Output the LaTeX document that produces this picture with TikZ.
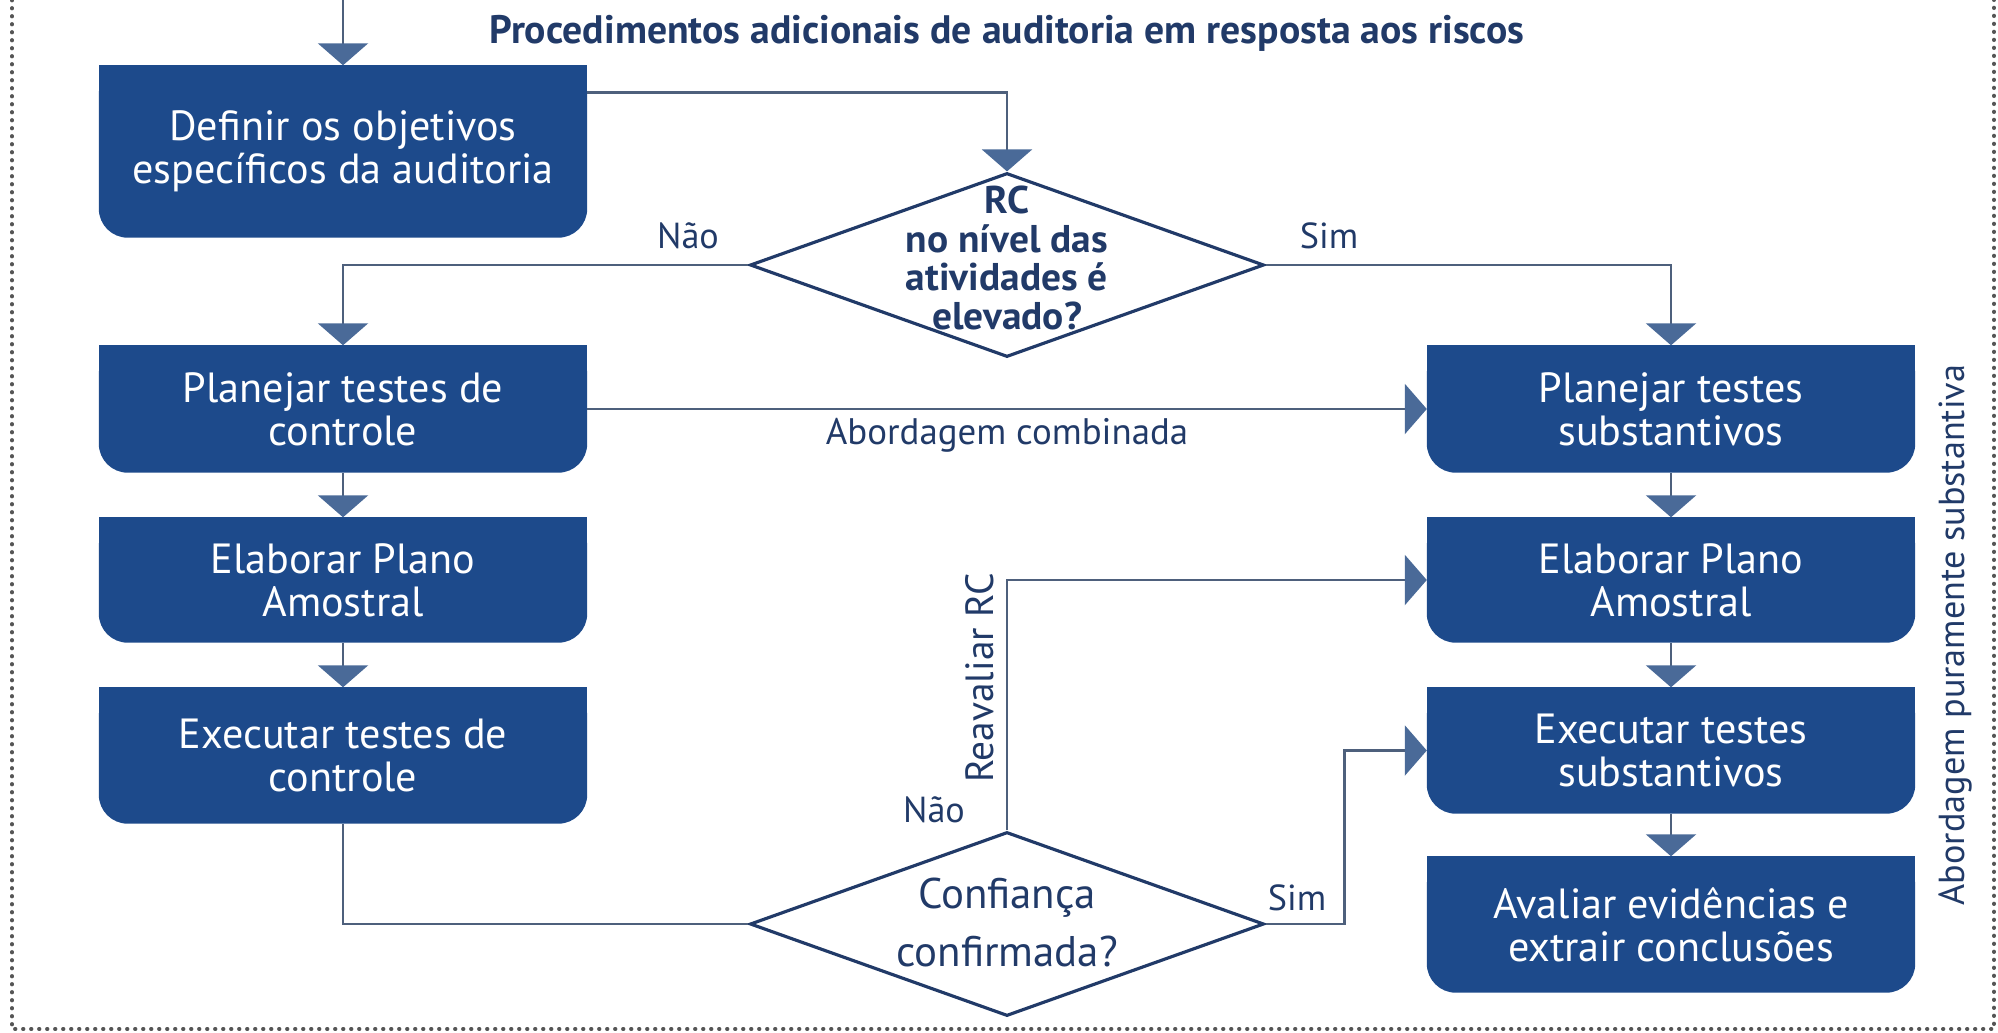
\documentclass[tikz,border=0pt]{standalone}
\usepackage{fontspec}
\setmainfont{PT Sans}
\newfontfamily\condbold[FakeStretch=1.02]{PT Sans Bold}
\usetikzlibrary{shapes.geometric,arrows.meta,backgrounds}
\definecolor{boxblue}{RGB}{29,74,139}
\definecolor{navy}{RGB}{33,58,104}
\definecolor{wirecol}{RGB}{78,96,124}
\definecolor{tipblue}{RGB}{74,106,152}
\definecolor{dotgray}{RGB}{85,85,85}

\begin{document}
\begin{tikzpicture}[x=0.1mm,y=-0.1mm,
  stepbox/.style={minimum width=48.7mm, inner sep=0, text=white, align=center,
                  font=\fontsize{12}{12.2}\selectfont},
  decision/.style={diamond, draw=navy, line width=0.9pt, minimum width=51.4mm,
                   minimum height=18.4mm, inner sep=0},
  wire/.style={draw=wirecol, line width=0.75pt},
  flow/.style={wire, -{Triangle[width=5mm,length=2.2mm,color=tipblue]}},
  lbl/.style={text=navy, font=\fontsize{10.3}{12}\selectfont, inner sep=0}
]
\useasboundingbox (0,0) rectangle (1998,1032);

% page frame (dotted)
\draw[dotgray, line width=0.38mm, dash pattern=on 0.05mm off 0.75mm, line cap=round]
  (12,0) -- (12,1029) -- (1994,1029) -- (1994,0);

% title
\node[text=navy, font=\bfseries\fontsize{11.3}{13}\selectfont] (title) at (1007,33)
  {Procedimentos adicionais de auditoria em resposta aos riscos};

% process steps
\node[stepbox, minimum height=17.1mm] (L1) at (343,151.5) {Definir os objetivos\\específicos da auditoria};
\node[stepbox, minimum height=12.6mm] (L2) at (343,409) {Planejar testes de\\controle};
\node[stepbox, minimum height=12.4mm] (L3) at (343,580) {Elaborar Plano\\Amostral};
\node[stepbox, minimum height=13.5mm] (L4) at (343,755.5) {Executar testes de\\controle};
\node[stepbox, minimum height=12.6mm] (R1) at (1671,409) {Planejar testes\\substantivos};
\node[stepbox, minimum height=12.4mm] (R2) at (1671,580) {Elaborar Plano\\Amostral};
\node[stepbox, minimum height=12.5mm] (R3) at (1671,750.5) {Executar testes\\substantivos};
\node[stepbox, minimum height=13.5mm] (R4) at (1671,924.5) {Avaliar evidências e\\extrair conclusões};

% box bodies: square top, rounded bottom
\begin{scope}[on background layer]
  \foreach \n in {L1,L2,L3,L4,R1,R2,R3,R4}{
    \fill[boxblue, rounded corners=2.9mm] (\n.south west) rectangle (\n.north east);
    \fill[boxblue] (\n.west) rectangle (\n.north east);
  }
\end{scope}

% decisions
\node[decision] (D1) at (1007,265) {};
\node[font=\condbold\fontsize{11}{11}\selectfont, text=navy, align=center, inner sep=0]
  (D1t) at (1007,258) {RC\\no nível das\\atividades é\\elevado?};
\node[decision] (D2) at (1007,924) {};
\node[font=\fontsize{12.2}{16.5}\selectfont, text=navy, align=center, inner sep=0]
  (D2t) at (1007,922) {Confiança\\confirmada?};

% connectors
\coordinate (entry) at (343,0);
\draw[flow] (entry) -- (L1.north);
\draw[flow] ([yshift=-2.7mm]L1.north east) -| (D1.north);
\draw[flow] (D1.west) -| (L2.north);
\draw[flow] (D1.east) -| (R1.north);
\draw[flow] (L2.east) -- (R1.west);
\draw[flow] (L2.south) -- (L3.north);
\draw[flow] (L3.south) -- (L4.north);
\draw[flow] (R1.south) -- (R2.north);
\draw[flow] (R2.south) -- (R3.north);
\draw[flow] (R3.south) -- (R4.north);
\draw[wire] (L4.south) |- (D2.west);
\draw[flow] (D2.north) |- (R2.west);
\draw[flow] (D2.east) -- ++(79,0) |- (R3.west);

% connector labels
\node[lbl] (nao1) at (688,236) {Não};
\node[lbl] (sim1) at (1329,236) {Sim};
\node[lbl] (nao2) at (934,810) {Não};
\node[lbl] (sim2) at (1297,898) {Sim};
\node[lbl, font=\fontsize{10.5}{12}\selectfont] (comb) at (1007,435) {Abordagem combinada};
\node[lbl, rotate=90, font=\fontsize{11.2}{12}\selectfont] (reav) at (980,678) {Reavaliar RC};
\node[lbl, rotate=90, font=\fontsize{10.3}{12}\selectfont] (pura) at (1955,635)
  {Abordagem puramente substantiva};
\end{tikzpicture}
\end{document}
